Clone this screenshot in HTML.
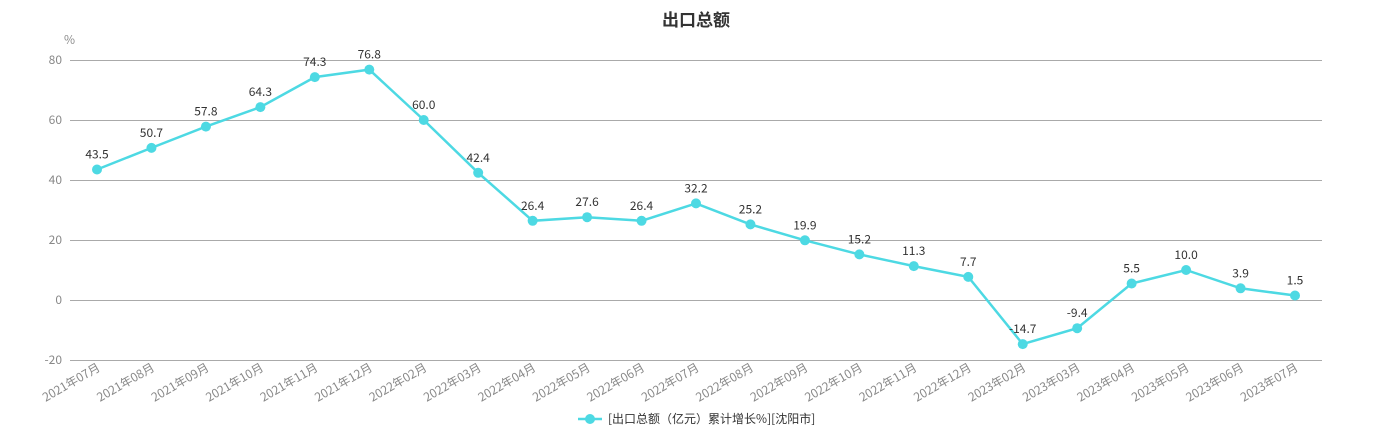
<!DOCTYPE html>
<html><head><meta charset="utf-8"><style>
body{margin:0;background:#fff;}
svg{display:block;font-family:"Noto Sans CJK SC","Liberation Sans",sans-serif;}
</style></head><body>
<svg width="1393" height="440" viewBox="0 0 1393 440">
<text x="696" y="26" text-anchor="middle" font-size="17" font-weight="bold" fill="#333">出口总额</text>
<text x="64" y="44" font-size="12" fill="#888">%</text>
<g stroke="#aaa" stroke-width="1">
<line x1="70" y1="60.5" x2="1322" y2="60.5"/>
<line x1="70" y1="120.5" x2="1322" y2="120.5"/>
<line x1="70" y1="180.5" x2="1322" y2="180.5"/>
<line x1="70" y1="240.5" x2="1322" y2="240.5"/>
<line x1="70" y1="300.5" x2="1322" y2="300.5"/>
<line x1="70" y1="360.5" x2="1322" y2="360.5"/>
</g>
<g font-size="12" fill="#888" text-anchor="end">
<text x="62" y="64">80</text><text x="62" y="124">60</text><text x="62" y="184">40</text>
<text x="62" y="244">20</text><text x="62" y="304">0</text><text x="62" y="364">-20</text>
</g>
<g id="c"></g>
<line x1="578" y1="419" x2="602" y2="419" stroke="#4dd9e3" stroke-width="2.5"/>
<circle cx="590" cy="419" r="5" fill="#4dd9e3"/>
<text x="608" y="423" font-size="12" fill="#333">[出口总额（亿元）累计增长%][沈阳市]</text>
</svg>
<script>
const d=[43.5,50.7,57.8,64.3,74.3,76.8,60.0,42.4,26.4,27.6,26.4,32.2,25.2,19.9,15.2,11.3,7.7,-14.7,-9.4,5.5,10.0,3.9,1.5];
const m=["2021年07月","2021年08月","2021年09月","2021年10月","2021年11月","2021年12月","2022年02月","2022年03月","2022年04月","2022年05月","2022年06月","2022年07月","2022年08月","2022年09月","2022年10月","2022年11月","2022年12月","2023年02月","2023年03月","2023年04月","2023年05月","2023年06月","2023年07月"];
const g=document.getElementById('c');let s='',pts=[];
d.forEach((v,i)=>{const x=97+i*(1295-97)/22,y=300-v*3;pts.push(x+','+y);
s+=`<text x="${x}" y="${y-11}" text-anchor="middle" font-size="12" fill="#333">${v.toFixed(1)}</text>`;
s+=`<text transform="translate(${x+4},370) rotate(-30)" text-anchor="end" font-size="12" fill="#888">${m[i]}</text>`;
s+=`<circle cx="${x}" cy="${y}" r="5" fill="#4dd9e3"/>`;});
g.innerHTML=`<polyline points="${pts.join(' ')}" fill="none" stroke="#4dd9e3" stroke-width="2.5"/>`+s;
</script>
</body></html>
